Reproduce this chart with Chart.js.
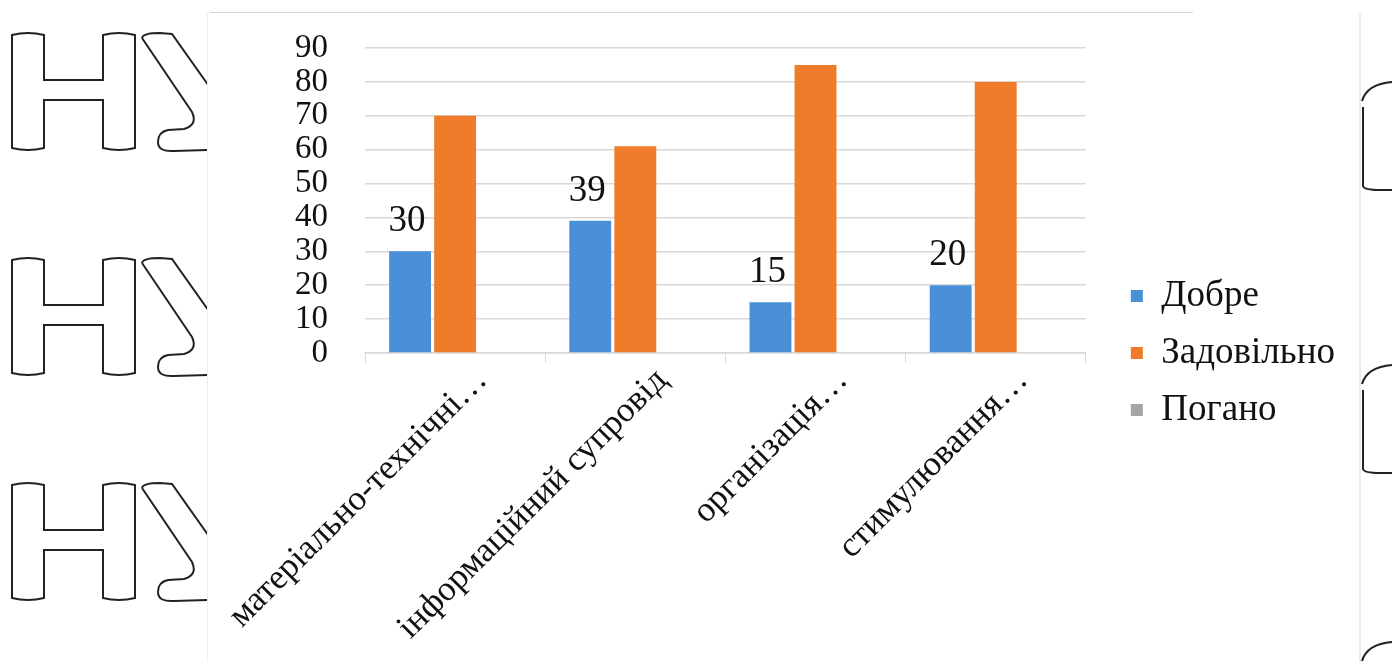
<!DOCTYPE html>
<html>
<head>
<meta charset="utf-8">
<script src="https://cdn.jsdelivr.net/npm/chart.js@4.4.1/dist/chart.umd.min.js"></script>
<style>
  html, body { margin: 0; padding: 0; background: #fff; }
  body { width: 1392px; height: 662px; position: relative; overflow: hidden; }
  #marks { position: absolute; left: 0; top: 0; }
  #box { position: absolute; left: 207px; top: 13px; width: 1151px; height: 649px; background: #fff;
         border-left: 1px solid #efefef; border-right: 2px solid #ebebeb; }
  #topline { position: absolute; left: 210px; top: 12px; width: 983px; height: 1px; background: #d6d6d6; }
  #chartWrap { position: absolute; left: 210px; top: 14px; width: 1150px; height: 648px; }
</style>
</head>
<body>
<!-- watermark letters behind the chart box -->
<svg id="marks" width="1392" height="662" fill="none" stroke="#222" stroke-width="2">
  <defs>
    <g id="nu">
      <path d="M12,35 Q28,31 44,35 L44,80 L103,80 L103,35 Q119,31 135,35 L135,148 Q119,152 103,148 L103,100 L44,100 L44,148 Q28,152 12,148 Z"/>
      <path d="M142,38 Q143,33 160,33 L172,34 L240,130"/>
      <path d="M142,38 L192,112 Q198,125 184,129 L168,130 Q158,132 158,142 Q158,152 174,151 L240,149"/>
    </g>
    <g id="edge">
      <path d="M1362,101 Q1367,84 1392,82"/>
      <path d="M1363,107 L1363,186 Q1364,190 1380,190 L1392,190"/>
    </g>
  </defs>
  <use href="#nu"/>
  <use href="#nu" y="225"/>
  <use href="#nu" y="450"/>
  <use href="#edge"/>
  <use href="#edge" y="283"/>
  <use href="#edge" y="560"/>
</svg>
<div id="box"></div>
<div id="topline"></div>
<div id="chartWrap"><canvas id="surveyChart" width="1150" height="648"></canvas></div>
<script>
var categories = ['матеріально-технічні…', 'інформаційний супровід', 'організація…', 'стимулювання…'];
var seriesNames = ['Добре', 'Задовільно', 'Погано'];
var dobre = [30, 39, 15, 20];
var zadovilno = [70, 61, 85, 80];
var pohano = [0, 0, 0, 0];
var yMin = 0;
var yMax = 90;
var yStep = 10;

var serif = '"Liberation Serif", "Times New Roman", serif';

// numbers above the "Добре" bars
var valueLabels = {
    id: 'valueLabels',
    afterDatasetsDraw: function (chart) {
        var ctx = chart.ctx;
        var meta = chart.getDatasetMeta(0);
        ctx.save();
        ctx.font = '37px ' + serif;
        ctx.fillStyle = '#111';
        ctx.textAlign = 'center';
        ctx.textBaseline = 'alphabetic';
        meta.data.forEach(function (bar, i) {
            ctx.fillText(String(dobre[i]), bar.x - 3, bar.y - 20);
        });
        ctx.restore();
    }
};

document.addEventListener('DOMContentLoaded', function () {
    Chart.defaults.font.family = serif;
    var canvas = document.getElementById('surveyChart');
    var ctx = canvas.getContext('2d');

    // legend width depends on the longest name; pick right padding so the legend starts at x=900
    ctx.font = '37px ' + serif;
    var longest = 0;
    seriesNames.forEach(function (n) { longest = Math.max(longest, ctx.measureText(n).width); });
    var legendWidth = Math.ceil(20 + 12 + 18.5 + longest + 10);
    var padRight = Math.max(0, canvas.width - 900 - legendWidth);

    var surveyChart = new Chart(ctx, {
        type: 'bar',
        data: {
            labels: categories,
            datasets: [{
                label: seriesNames[0],
                data: dobre,
                backgroundColor: '#4a90d9'
            }, {
                label: seriesNames[1],
                data: zadovilno,
                backgroundColor: '#f07b2a'
            }, {
                label: seriesNames[2],
                data: pohano,
                backgroundColor: '#a5a5a5'
            }]
        },
        options: {
            responsive: false,
            animation: false,
            categoryPercentage: 0.75,
            barPercentage: 0.93,
            layout: { padding: { top: 34, bottom: 4, left: 0, right: padRight } },
            plugins: {
                tooltip: { enabled: false },
                legend: {
                    position: 'right',
                    maxWidth: legendWidth + 40,
                    labels: {
                        boxWidth: 12,
                        boxHeight: 12,
                        padding: 20,
                        color: '#111',
                        font: { size: 37 }
                    }
                }
            },
            scales: {
                x: {
                    grid: { drawOnChartArea: false, tickLength: 10, color: '#d9d9d9' },
                    border: { color: '#d9d9d9', width: 1.5 },
                    ticks: {
                        autoSkip: false,
                        minRotation: 45,
                        maxRotation: 45,
                        labelOffset: 27,
                        padding: -3,
                        color: '#111',
                        font: { size: 35 }
                    },
                    afterFit: function (scale) {
                        scale.height = 305;
                        scale.paddingLeft = 0;
                        scale.paddingRight = 0;
                    }
                },
                y: {
                    min: yMin,
                    max: yMax,
                    ticks: { stepSize: yStep, autoSkip: false, padding: 37, color: '#111', font: { size: 33 } },
                    grid: { color: '#d9d9d9', drawTicks: false, lineWidth: 1.5 },
                    border: { display: false },
                    afterFit: function (scale) {
                        scale.width = 155;
                        scale.paddingTop = 0;
                        scale.paddingBottom = 0;
                    }
                },
                yR: {
                    position: 'right',
                    grid: { display: false },
                    border: { display: false },
                    ticks: { display: false },
                    afterFit: function (scale) {
                        scale.width = 25;
                        scale.paddingTop = 0;
                        scale.paddingBottom = 0;
                    }
                }
            }
        },
        plugins: [valueLabels]
    });
});
</script>
</body>
</html>
